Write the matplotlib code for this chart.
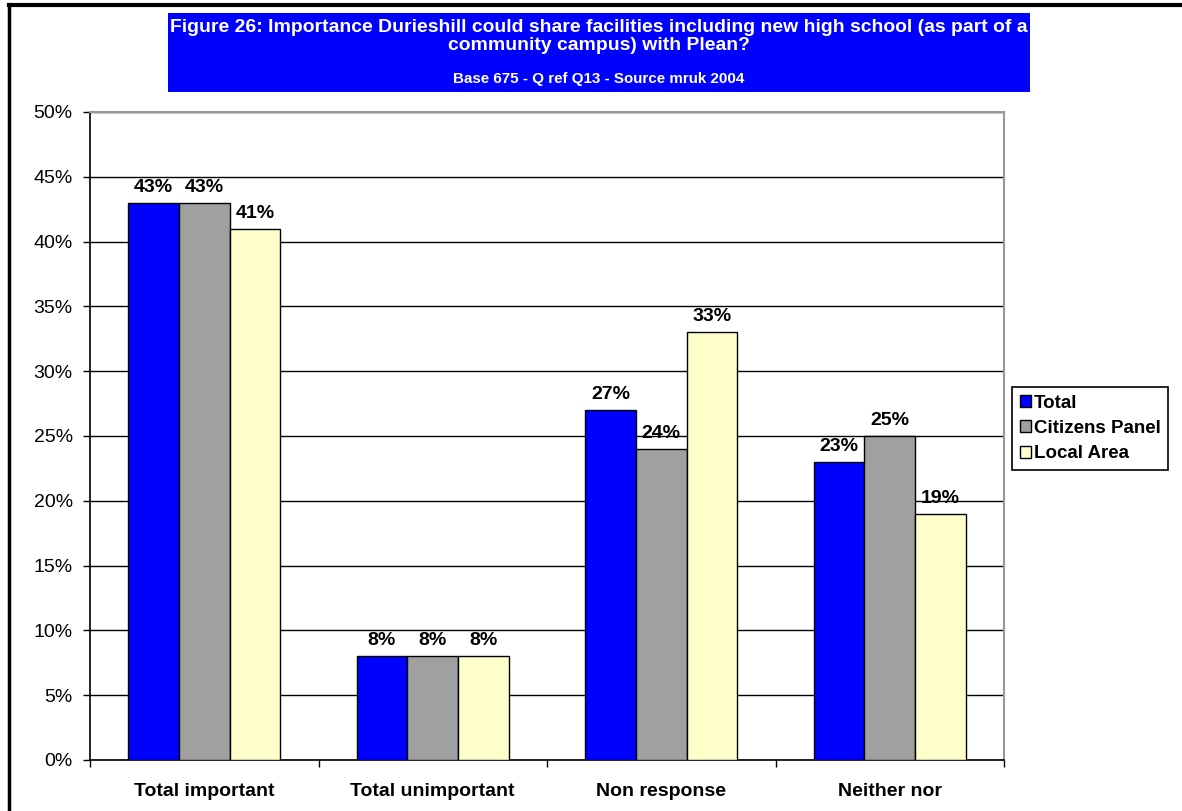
import matplotlib.pyplot as plt
from matplotlib.lines import Line2D
from matplotlib.patches import Rectangle
import numpy as np

categories = ["Total important", "Total unimportant", "Non response", "Neither nor"]
series_names = ["Total", "Citizens Panel", "Local Area"]
total = [43, 8, 27, 23]
citizens_panel = [43, 8, 24, 25]
local_area = [41, 8, 33, 19]
colors = ["#0000FF", "#A0A0A0", "#FFFFCC"]

title_lines = ["Figure 26: Importance Durieshill could share facilities including new high school (as part of a",
               "community campus) with Plean?"]
subtitle = "Base 675 - Q ref Q13 - Source mruk 2004"

plt.rcParams['font.family'] = ['Liberation Sans', 'DejaVu Sans']

W, H = 1182, 811
fig = plt.figure(figsize=(W / 100, H / 100), dpi=100)
ax = fig.add_axes([90 / W, 51 / H, 914 / W, 648 / H])

x = np.arange(len(categories))
w = 1 / 4.5
for i, (vals, name) in enumerate(zip([total, citizens_panel, local_area], series_names)):
    bars = ax.bar(x + (i - 1) * w, vals, w, color=colors[i], edgecolor="black",
                  linewidth=1, label=name, zorder=3)
    for b, v in zip(bars, vals):
        ax.annotate(f"{v}%", (b.get_x() + b.get_width() / 2, v), xytext=(0, 5),
                    textcoords="offset points", ha="center", va="bottom",
                    fontsize=14, fontweight="bold", zorder=4)

ax.set_xlim(-0.5, 3.5)
ax.set_ylim(0, 50)
ax.set_yticks(np.arange(0, 51, 5))
ax.set_yticklabels([f"{t}%" for t in range(0, 51, 5)], fontsize=14)
ax.tick_params(axis="y", direction="out", length=5, width=1, pad=7.5)
ax.set_xticks(np.arange(-0.5, 4, 1))
ax.set_xticklabels([])
ax.tick_params(axis="x", which="major", direction="out", length=5, width=1)
ax.set_xticks(x, minor=True)
ax.set_xticklabels(categories, minor=True, fontsize=14, fontweight="bold")
ax.tick_params(axis="x", which="minor", length=0, pad=16.5)

ax.yaxis.grid(True, color="black", linewidth=1, zorder=0)
ax.set_axisbelow(True)
for s in ["top", "right"]:
    ax.spines[s].set_color("#999999")
    ax.spines[s].set_linewidth(1.5)
for s in ["left", "bottom"]:
    ax.spines[s].set_color("black")
    ax.spines[s].set_linewidth(1.2)

leg = ax.legend(loc="upper left", bbox_to_anchor=(1012 / W, 1 - 387 / H),
                bbox_transform=fig.transFigure, borderaxespad=0, fancybox=False,
                framealpha=1, edgecolor="black", handlelength=0.6, handleheight=0.6,
                handletextpad=0.15, borderpad=0.4, labelspacing=0.45,
                prop={"weight": "bold", "size": 13.5})
leg.get_frame().set_linewidth(1.2)

# blue title box
fig.add_artist(Rectangle((168 / W, 1 - 92 / H), 862 / W, 79 / H,
                         transform=fig.transFigure, facecolor="#0000FF", edgecolor="none"))
t1 = fig.text(599 / W, 1 - 27 / H, title_lines[0], ha="center", va="center", color="white",
              fontsize=12, fontweight="bold")
fig.canvas.draw()
size = 12 * 852 / t1.get_window_extent().width
t1.set_fontsize(size)
fig.text(599 / W, 1 - 46 / H, title_lines[1], ha="center", va="center", color="white",
         fontsize=size, fontweight="bold")
fig.text(599 / W, 1 - 79 / H, subtitle, ha="center", va="center", color="white",
         fontsize=size * 0.78, fontweight="bold")

# outer frame lines
fig.add_artist(Line2D([9 / W, 1], [1 - 5 / H, 1 - 5 / H], color="black", linewidth=3,
                      transform=fig.transFigure))
fig.add_artist(Line2D([9 / W, 9 / W], [0, 1 - 5 / H], color="black", linewidth=2.5,
                      transform=fig.transFigure))

fig.savefig("out.png", dpi=100)
